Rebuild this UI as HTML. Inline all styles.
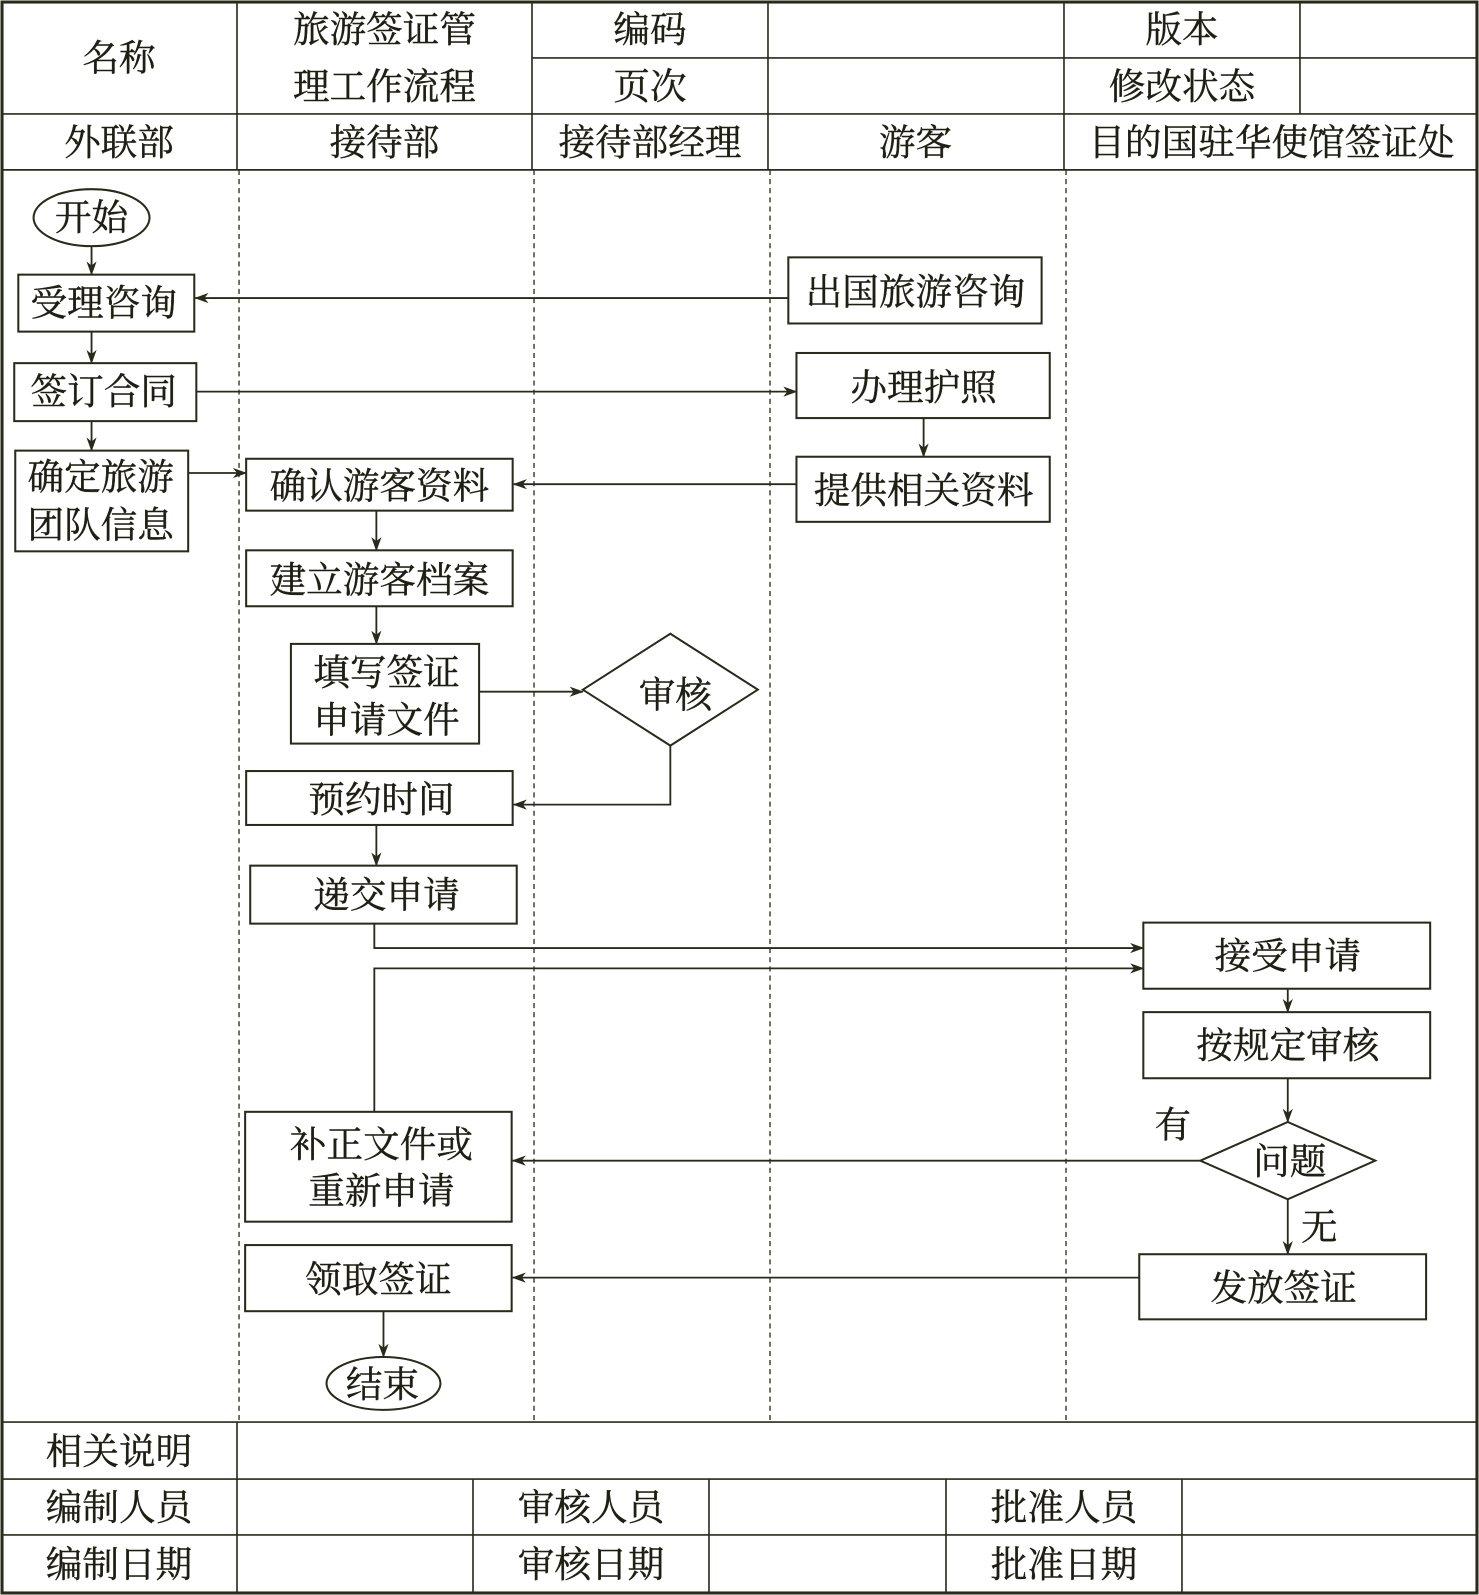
<!DOCTYPE html>
<html><head><meta charset="utf-8"><style>
html,body{margin:0;padding:0;background:#fff}
svg{display:block}
text{font-family:"Liberation Serif","Noto Serif CJK SC","Noto Sans CJK SC",serif;fill:#1e1e12;stroke:#1e1e12;stroke-width:0.4;text-anchor:middle;dominant-baseline:central}
</style></head><body>
<svg width="1479" height="1595" viewBox="0 0 1454 1568" preserveAspectRatio="none" xmlns="http://www.w3.org/2000/svg">
<defs><marker id="a" markerWidth="14" markerHeight="10" refX="13" refY="5" orient="auto" markerUnits="userSpaceOnUse"><path d="M0,0 L14,5 L0,10 L4,5 Z" fill="#2a2a1a"/></marker></defs>
<rect x="0" y="0" width="1454" height="1568" fill="#fff"/>
<g stroke="#2a2a1a" fill="none">
<rect x="2" y="2" width="1450" height="1564" stroke-width="3"/>
<g stroke-width="1.6">
<line x1="2" y1="112" x2="1452" y2="112"/><line x1="2" y1="167" x2="1452" y2="167"/>
<line x1="523" y1="57" x2="1452" y2="57"/>
<line x1="233" y1="2" x2="233" y2="167"/><line x1="523" y1="2" x2="523" y2="167"/>
<line x1="755" y1="2" x2="755" y2="167"/><line x1="1046" y1="2" x2="1046" y2="167"/>
<line x1="1278" y1="2" x2="1278" y2="112"/>
<line x1="2" y1="1398" x2="1452" y2="1398"/><line x1="2" y1="1454" x2="1452" y2="1454"/><line x1="2" y1="1509" x2="1452" y2="1509"/>
<line x1="233" y1="1398" x2="233" y2="1566"/>
<line x1="465" y1="1454" x2="465" y2="1566"/><line x1="697" y1="1454" x2="697" y2="1566"/>
<line x1="930" y1="1454" x2="930" y2="1566"/><line x1="1162" y1="1454" x2="1162" y2="1566"/>
</g>
<g stroke-width="1.3" stroke-dasharray="5,4">
<line x1="235" y1="167" x2="235" y2="1398"/><line x1="525" y1="167" x2="525" y2="1398"/>
<line x1="757" y1="167" x2="757" y2="1398"/><line x1="1048" y1="167" x2="1048" y2="1398"/>
</g>
<g stroke-width="2">
<ellipse cx="90" cy="214" rx="57" ry="28"/>
<rect x="18" y="270" width="173" height="56"/>
<rect x="14" y="357" width="179" height="57"/>
<rect x="15" y="443" width="170" height="99"/>
<rect x="775" y="253" width="249" height="65"/>
<rect x="783" y="347" width="249" height="64"/>
<rect x="783" y="449" width="249" height="64"/>
<rect x="242" y="451" width="262" height="51"/>
<rect x="242" y="541" width="262" height="55"/>
<rect x="286" y="633" width="185" height="98"/>
<polygon points="573,678 659,623 745,678 659,733"/>
<rect x="242" y="758" width="262" height="53"/>
<rect x="246" y="851" width="262" height="57"/>
<rect x="1124" y="907" width="282" height="65"/>
<rect x="1124" y="995" width="282" height="65"/>
<polygon points="1180,1141 1266,1103 1352,1141 1266,1179"/>
<rect x="241" y="1093" width="262" height="108"/>
<rect x="241" y="1224" width="262" height="65"/>
<rect x="1120" y="1233" width="282" height="64"/>
<ellipse cx="377" cy="1360" rx="56" ry="26"/>
</g>
<g stroke-width="1.8" marker-end="url(#a)">
<path d="M90,242 V270"/>
<path d="M775,293 H192"/>
<path d="M90,326 V357"/>
<path d="M193,385 H783"/>
<path d="M90,414 V443"/>
<path d="M185,465 H242"/>
<path d="M908,411 V449"/>
<path d="M783,476 H505"/>
<path d="M370,502 V541"/>
<path d="M370,596 V633"/>
<path d="M471,680 H573"/>
<path d="M659,733 V791 H505"/>
<path d="M370,811 V851"/>
<path d="M368,908 V932 H1124"/>
<path d="M368,1093 V952 H1124"/>
<path d="M1266,972 V995"/>
<path d="M1266,1060 V1103"/>
<path d="M1180,1141 H504"/>
<path d="M1266,1179 V1233"/>
<path d="M1120,1256 H504"/>
<path d="M377,1289 V1334"/>
</g>
</g>
<g font-size="36">
<text x="117" y="57">名称</text>
<text x="378" y="29">旅游签证管</text><text x="378" y="85">理工作流程</text>
<text x="639" y="29">编码</text><text x="639" y="85">页次</text>
<text x="1162" y="29">版本</text><text x="1162" y="85">修改状态</text>
<text x="117" y="140">外联部</text><text x="378" y="140">接待部</text><text x="639" y="140">接待部经理</text>
<text x="900" y="140">游客</text><text x="1250" y="140">目的国驻华使馆签证处</text>
<text x="90" y="214">开始</text>
<text x="102" y="298">受理咨询</text>
<text x="102" y="385">签订合同</text>
<text x="99" y="469">确定旅游</text><text x="99" y="516">团队信息</text>
<text x="900" y="287">出国旅游咨询</text>
<text x="908" y="381">办理护照</text>
<text x="908" y="482">提供相关资料</text>
<text x="373" y="478">确认游客资料</text>
<text x="373" y="570">建立游客档案</text>
<text x="380" y="661">填写签证</text><text x="380" y="708">申请文件</text>
<text x="664" y="683">审核</text>
<text x="375" y="786">预约时间</text>
<text x="380" y="880">递交申请</text>
<text x="1266" y="940">接受申请</text>
<text x="1266" y="1028">按规定审核</text>
<text x="1268" y="1142">问题</text>
<text x="1153" y="1106">有</text>
<text x="1297" y="1206">无</text>
<text x="375" y="1125">补正文件或</text><text x="375" y="1171">重新申请</text>
<text x="372" y="1258">领取签证</text>
<text x="1262" y="1266">发放签证</text>
<text x="376" y="1361">结束</text>
<text x="117" y="1427">相关说明</text>
<text x="117" y="1482">编制人员</text><text x="117" y="1538">编制日期</text>
<text x="581" y="1482">审核人员</text><text x="581" y="1538">审核日期</text>
<text x="1046" y="1482">批准人员</text><text x="1046" y="1538">批准日期</text>
</g>
</svg>
</body></html>
